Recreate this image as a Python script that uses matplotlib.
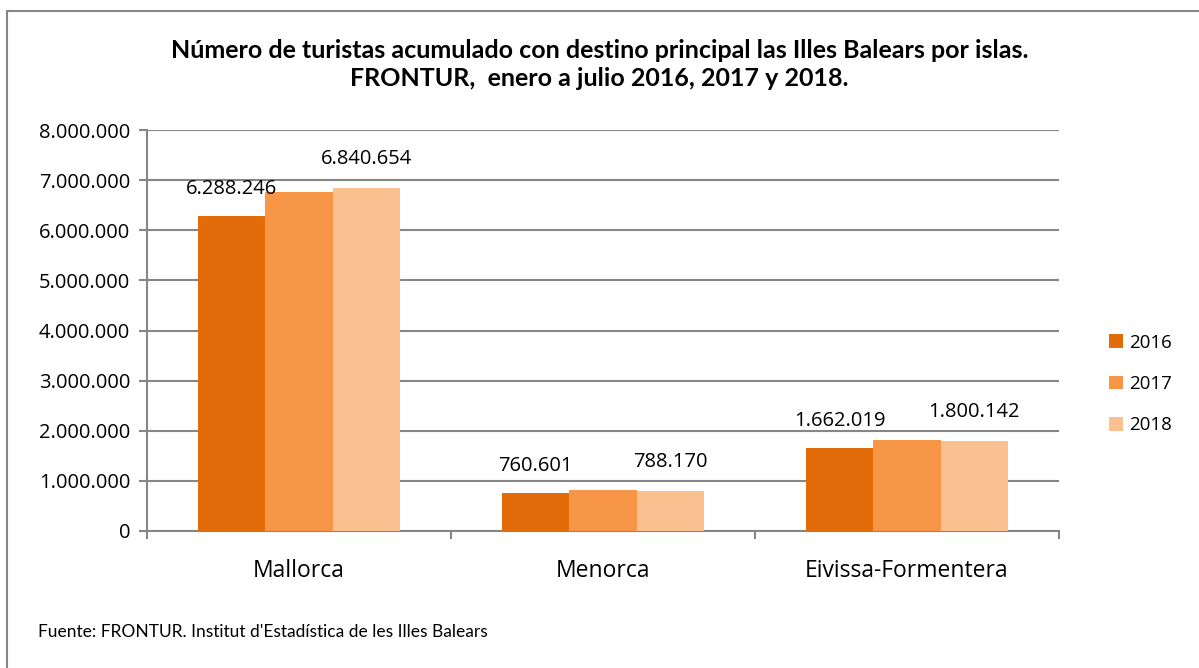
import matplotlib
matplotlib.use('Agg')
import matplotlib.pyplot as plt
from matplotlib.patches import Rectangle
from matplotlib.ticker import FuncFormatter
import numpy as np

# Data
islands = ['Mallorca', 'Menorca', 'Eivissa-Formentera']
years = ['2016', '2017', '2018']
v2016 = [6288246, 760601, 1662019]
v2017 = [6770000, 810000, 1810000]
v2018 = [6840654, 788170, 1800142]
yticks = [0, 1000000, 2000000, 3000000, 4000000, 5000000, 6000000, 7000000, 8000000]
colors = ['#E36C0A', '#F79646', '#FAC090']

plt.rcParams['font.family'] = ['Open Sans', 'DejaVu Sans']

fig = plt.figure(figsize=(11.99, 6.68), dpi=100)
ax = fig.add_axes([147 / 1199, 1 - 531 / 668, (1059 - 147) / 1199, (531 - 130) / 668])

# outer chart frame
fig.patches.append(Rectangle((7 / 1199, -0.05), 1.1, 1 - 11 / 668 + 0.05,
                             transform=fig.transFigure, fill=False,
                             edgecolor='#868686', linewidth=1.5, zorder=0))

x = np.arange(len(islands))
w = 0.2216
series = [v2016, v2017, v2018]
for i, (vals, c, yr) in enumerate(zip(series, colors, years)):
    ax.bar(x + (i - 1) * w, vals, width=w, color=c, label=yr, zorder=3)

fmt = lambda v: f'{int(v):,}'.replace(',', '.')

# data labels (only 2016 and 2018 are shown in the original)
for i in range(len(islands)):
    ax.annotate(fmt(v2016[i]), (x[i] - w, v2016[i]), xytext=(0, 19.5), textcoords='offset points',
                ha='center', va='center', fontsize=14.5)
    ax.annotate(fmt(v2018[i]), (x[i] + w, v2018[i]), xytext=(0, 21), textcoords='offset points',
                ha='center', va='center', fontsize=14.5)

ax.set_xlim(-0.5, 2.5)
ax.set_ylim(0, 8000000)
ax.set_yticks(yticks)
ax.yaxis.set_major_formatter(FuncFormatter(lambda v, p: fmt(v)))
ax.grid(axis='y', color='#868686', linewidth=1.5, zorder=0)

ax.set_xticks(x)
ax.set_xticklabels(islands, fontsize=16.5)
ax.set_xticks([-0.5, 0.5, 1.5, 2.5], minor=True)
ax.tick_params(axis='x', which='major', length=0, pad=20)
ax.tick_params(axis='x', which='minor', length=6, color='#868686', width=1.5)
ax.tick_params(axis='y', length=6, color='#868686', width=1.5, labelsize=14.5, pad=6)

for s in ['top', 'right']:
    ax.spines[s].set_visible(False)
for s in ['left', 'bottom']:
    ax.spines[s].set_color('#868686')
    ax.spines[s].set_linewidth(1.5)

fig.text(0.5, 1 - 50 / 668, 'Número de turistas acumulado con destino principal las Illes Balears por islas.',
         ha='center', va='center', fontsize=18, fontweight='bold', family=['Lato', 'DejaVu Sans'])
fig.text(0.5, 1 - 78 / 668, 'FRONTUR,  enero a julio 2016, 2017 y 2018.',
         ha='center', va='center', fontsize=18, fontweight='bold', family=['Lato', 'DejaVu Sans'])

ax.legend(loc='center left', bbox_to_anchor=(1109 / 1199, 1 - 384 / 668),
          bbox_transform=fig.transFigure, frameon=False, fontsize=13.5,
          handlelength=0.75, handleheight=0.75, handletextpad=0.3, labelspacing=1.25,
          borderpad=0, borderaxespad=0)

fig.text(38 / 1199, 1 - 632 / 668, "Fuente: FRONTUR. Institut d'Estadística de les Illes Balears",
         ha='left', va='center', fontsize=12.5, family=['Lato', 'DejaVu Sans'])

fig.savefig('out.png', dpi=100)
plt.close(fig)
